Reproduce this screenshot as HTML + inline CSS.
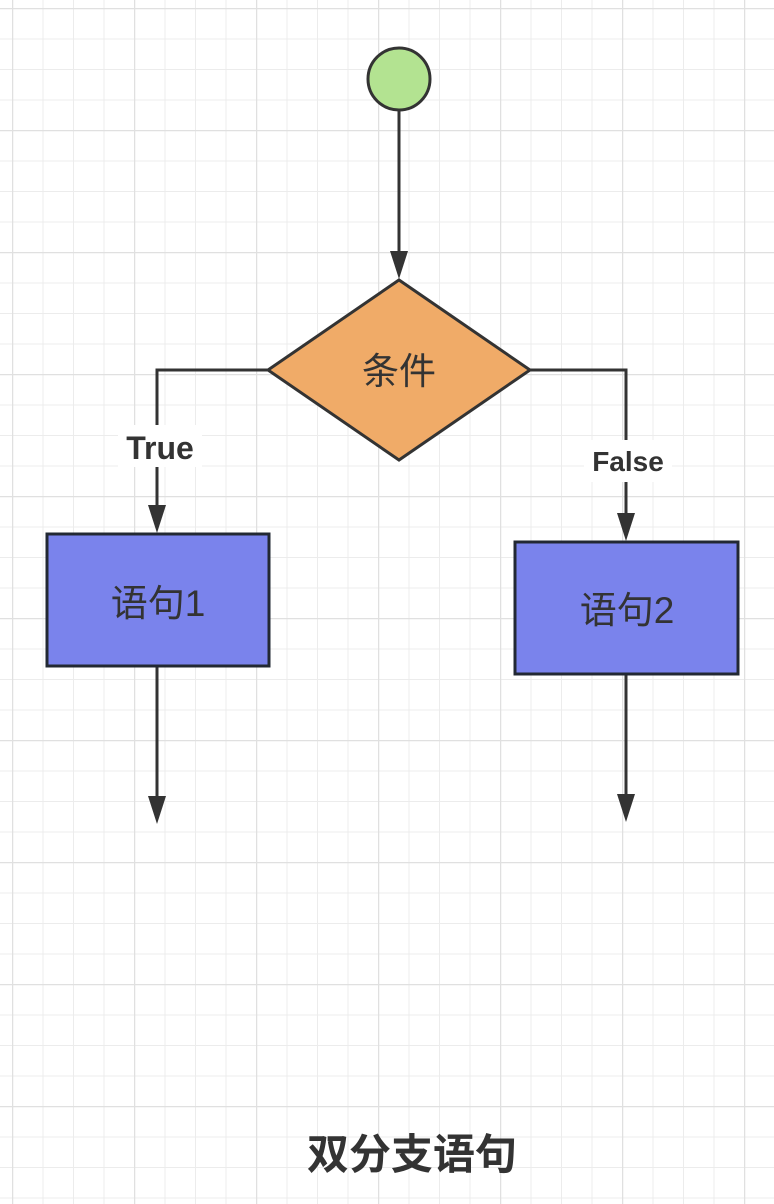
<!DOCTYPE html>
<html><head><meta charset="utf-8"><style>
html,body{margin:0;padding:0;background:#fff;}
svg{display:block}
</style></head><body>
<svg width="774" height="1204" xmlns="http://www.w3.org/2000/svg">
<defs>
<pattern id="minor" x="12" y="8" width="30.5" height="30.5" patternUnits="userSpaceOnUse">
<path d="M0 0H30.5M0 0V30.5" stroke="#ececec" stroke-width="2" fill="none"/>
</pattern>
<pattern id="major" x="12" y="8" width="122" height="122" patternUnits="userSpaceOnUse">
<path d="M0 0H122M0 0V122" stroke="#e0e0e0" stroke-width="2.5" fill="none"/>
</pattern>
</defs>
<rect width="774" height="1204" fill="url(#minor)"/>
<rect width="774" height="1204" fill="url(#major)"/>
<g stroke="#333" stroke-width="3" fill="none">
<line x1="399" y1="110" x2="399" y2="262"/>
<polyline points="268,370 157,370 157,515"/>
<polyline points="530,370 626,370 626,524"/>
<line x1="157" y1="666" x2="157" y2="806"/>
<line x1="626" y1="674" x2="626" y2="804"/>
</g>
<g fill="#333">
<path d="M390 251L408 251L399 279z"/>
<path d="M148 505L166 505L157 533z"/>
<path d="M617 513L635 513L626 541z"/>
<path d="M148 796L166 796L157 824z"/>
<path d="M617 794L635 794L626 822z"/>
</g>
<circle cx="399" cy="79" r="31" fill="#b3e391" stroke="#333" stroke-width="3"/>
<path d="M268 370L399 280L530 370L399 460z" fill="#f0ab68" stroke="#333" stroke-width="3"/>
<rect x="47" y="534" width="222" height="132" fill="#7a83ec" stroke="#222833" stroke-width="3"/>
<rect x="515" y="542" width="223" height="132" fill="#7a83ec" stroke="#222833" stroke-width="3"/>
<rect x="118" y="425" width="84" height="42" fill="#fff"/>
<rect x="584" y="440" width="88" height="42" fill="#fff"/>
<g font-family="Liberation Sans, Noto Sans CJK SC, sans-serif" fill="#333" text-anchor="middle">
<text x="399" y="384" font-size="37">条件</text>
<text x="158" y="616" font-size="37">语句1</text>
<text x="627" y="623" font-size="37">语句2</text>
<text x="160" y="459" font-size="32" font-weight="bold">True</text>
<text x="628" y="471" font-size="28" font-weight="bold">False</text>
<text x="412" y="1169" font-size="42" font-weight="bold">双分支语句</text>
</g>
</svg>
</body></html>
